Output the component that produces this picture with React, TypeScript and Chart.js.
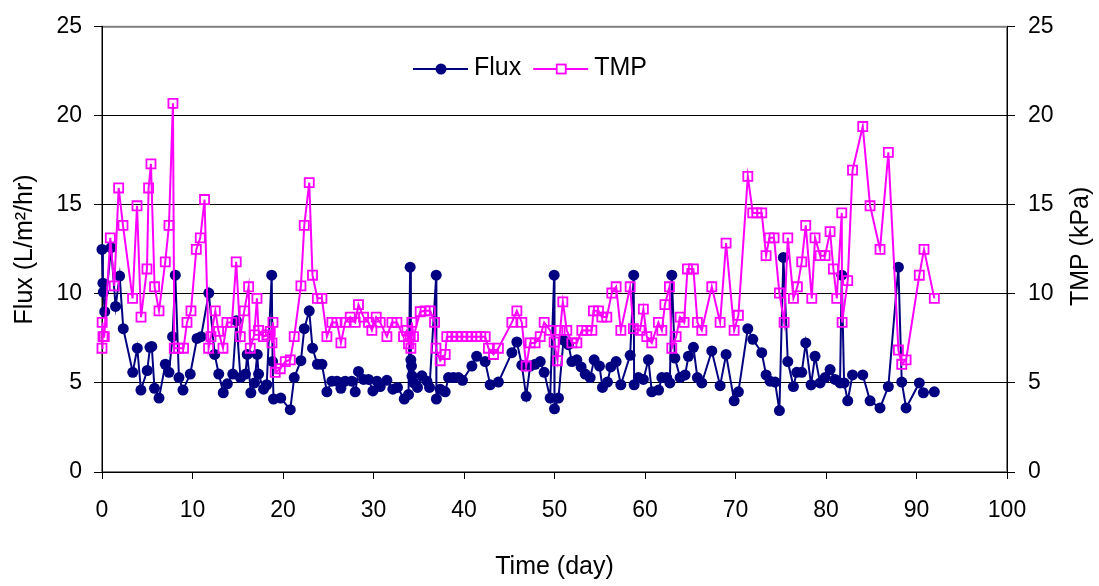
import React, { useEffect, useRef } from 'react';
import { Chart, registerables } from 'chart.js';

Chart.register(...registerables);

const fluxDays = [
  0.0, 0.1, 0.15, 0.3, 1.0, 1.5, 1.95, 2.35, 3.4, 3.9, 4.3, 5.0, 5.3, 5.5, 5.8, 6.3, 7.0, 7.4, 7.8, 8.1,
  8.5, 8.95, 9.75, 10.5, 10.95, 11.8, 12.45, 12.9, 13.4, 13.85, 14.45, 14.85, 15.3, 15.85, 16.05, 16.45, 16.85, 17.15, 17.3, 17.85,
  18.2, 18.75, 18.85, 18.95, 19.75, 20.8, 21.24, 21.98, 22.35, 22.9, 23.26, 23.8, 24.3, 24.85, 25.4, 25.96, 26.4, 26.87, 27.6, 27.98,
  28.34, 28.9, 29.45, 29.93, 30.38, 30.74, 31.48, 32.14, 32.65, 33.4, 33.87, 34.05, 34.13, 34.2, 34.25, 34.45, 34.86, 35.35, 35.9, 36.19,
  36.93, 36.95, 37.37, 37.92, 38.29, 38.84, 39.39, 39.83, 40.87, 41.4, 42.34, 42.89, 43.8, 45.29, 45.84, 46.39, 46.87, 47.31, 47.86, 48.42,
  48.86, 49.52, 49.96, 50.0, 50.44, 50.99, 51.54, 51.92, 52.47, 52.94, 53.39, 53.94, 54.38, 54.97, 55.3, 55.85, 56.22, 56.81, 57.33, 58.36,
  58.75, 58.8, 59.27, 59.82, 60.38, 60.75, 61.5, 61.86, 62.4, 62.75, 62.96, 63.3, 63.88, 64.43, 64.8, 65.35, 65.79, 66.28, 67.38, 68.3,
  68.96, 69.85, 70.32, 71.36, 71.91, 72.9, 73.38, 73.82, 74.37, 74.85, 75.29, 75.78, 76.4, 76.77, 77.32, 77.76, 78.35, 78.79, 79.35, 79.9,
  80.45, 81.0, 81.55, 81.74, 82.0, 82.4, 82.93, 84.06, 84.87, 85.97, 86.89, 88.0, 88.37, 88.85, 90.31, 90.76, 91.97,
];
const fluxValues = [
  12.5, 10.6, 10.1, 9.0, 12.6, 9.3, 11.0, 8.05, 5.6, 6.95, 4.6, 5.7, 7.0, 7.05, 4.7, 4.15, 6.05, 5.6, 7.6, 11.05,
  5.3, 4.6, 5.5, 7.5, 7.6, 10.05, 6.6, 5.5, 4.45, 4.95, 5.5, 8.5, 5.3, 5.5, 6.6, 4.45, 5.0, 6.6, 5.5, 4.65,
  4.9, 11.05, 6.2, 4.1, 4.15, 3.5, 5.3, 6.25, 8.05, 9.05, 6.95, 6.05, 6.05, 4.5, 5.1, 5.1, 4.7, 5.1, 5.1, 4.5,
  5.65, 5.2, 5.2, 4.55, 5.1, 4.8, 5.15, 4.65, 4.75, 4.1, 4.35, 11.5, 6.3, 5.95, 5.4, 5.0, 4.75, 5.4, 5.1, 4.75,
  11.05, 4.1, 4.65, 4.5, 5.3, 5.3, 5.3, 5.15, 5.95, 6.5, 6.2, 4.9, 5.05, 6.7, 7.3, 6.0, 4.25, 5.95, 6.05, 6.2,
  5.6, 4.15, 11.05, 3.55, 4.15, 7.4, 7.15, 6.2, 6.3, 5.9, 5.5, 5.3, 6.3, 5.95, 4.75, 5.05, 5.9, 6.2, 4.9, 6.55,
  11.05, 4.9, 5.3, 5.2, 6.3, 4.5, 4.6, 5.3, 5.3, 5.0, 11.05, 6.4, 5.3, 5.45, 6.5, 7.0, 5.3, 5.0, 6.8, 4.85,
  6.6, 4.0, 4.5, 8.05, 7.45, 6.7, 5.45, 5.1, 5.05, 3.45, 12.05, 6.2, 4.8, 5.6, 5.6, 7.25, 4.9, 6.5, 5.0, 5.3,
  5.75, 5.2, 5.0, 11.05, 5.0, 4.0, 5.45, 5.45, 4.0, 3.6, 4.8, 11.5, 5.05, 3.6, 5.0, 4.45, 4.5,
];

const tmpDays = [
  0.0, 0.02, 0.11, 0.25, 0.92, 1.36, 1.84, 2.32, 3.38, 3.87, 4.31, 4.97, 5.15, 5.41, 5.81, 6.3, 6.99, 7.4, 7.84, 7.99,
  8.46, 9.01, 9.39, 9.83, 10.42, 10.86, 11.33, 11.78, 12.04, 12.52, 12.88, 13.37, 13.8, 14.36, 14.83, 15.28, 15.72, 16.2, 16.38, 16.82,
  17.12, 17.3, 17.85, 18.22, 18.59, 18.78, 18.89, 19.14, 19.7, 20.25, 20.8, 21.24, 21.98, 22.35, 22.9, 23.26, 23.8, 24.3, 24.85, 25.4,
  25.96, 26.4, 26.87, 27.43, 27.98, 28.34, 28.9, 29.45, 29.82, 30.3, 30.74, 31.48, 32.03, 32.59, 33.32, 33.69, 33.87, 34.06, 34.13, 34.24,
  34.42, 35.16, 35.71, 36.26, 36.75, 36.9, 37.37, 37.92, 38.1, 38.66, 39.21, 39.77, 40.32, 40.87, 41.42, 41.85, 42.34, 42.7, 43.26, 43.8,
  45.29, 45.84, 46.39, 46.87, 47.31, 47.86, 48.42, 48.86, 49.52, 49.96, 50.33, 50.62, 50.92, 51.36, 51.92, 52.47, 53.02, 53.57, 54.13, 54.3,
  54.86, 55.23, 55.78, 56.33, 56.81, 57.33, 58.36, 58.72, 59.45, 59.82, 60.2, 60.75, 61.48, 61.86, 62.2, 62.7, 62.96, 63.44, 63.88, 64.32,
  64.69, 65.35, 65.79, 66.28, 67.38, 68.3, 68.96, 69.85, 70.32, 71.36, 71.91, 72.35, 72.9, 73.38, 73.74, 74.26, 74.85, 75.37, 75.78, 76.4,
  76.84, 77.32, 77.76, 78.43, 78.79, 79.35, 79.9, 80.45, 80.82, 81.19, 81.74, 81.78, 82.4, 82.93, 84.06, 84.87, 85.97, 86.89, 88.0, 88.37,
  88.85, 90.31, 90.83, 91.97,
];
const tmpValues = [
  6.95, 8.4, 7.6, 7.6, 13.15, 10.45, 15.95, 13.85, 9.75, 14.95, 8.7, 11.4, 15.95, 17.3, 10.4, 9.05, 11.8, 13.85, 20.7, 6.95,
  6.95, 6.95, 8.4, 9.05, 12.5, 13.15, 15.3, 6.95, 7.6, 9.05, 7.9, 6.95, 8.4, 8.4, 11.8, 7.6, 9.05, 10.4, 6.95, 7.7,
  9.75, 7.95, 7.6, 7.7, 7.9, 7.25, 8.4, 5.6, 5.8, 6.2, 6.3, 7.6, 10.45, 13.85, 16.25, 11.05, 9.75, 9.75, 7.6, 8.4,
  8.4, 7.25, 8.4, 8.7, 8.4, 9.4, 8.7, 8.4, 7.95, 8.7, 8.4, 7.6, 8.4, 8.4, 7.6, 7.95, 7.2, 7.6, 6.95, 8.4,
  7.6, 9.0, 9.05, 9.05, 8.4, 6.95, 6.25, 6.6, 7.6, 7.6, 7.6, 7.6, 7.6, 7.6, 7.6, 7.6, 7.6, 6.95, 6.6, 6.95,
  8.4, 9.05, 8.4, 5.95, 7.25, 7.25, 7.6, 8.4, 7.95, 7.3, 6.25, 7.95, 9.55, 7.95, 7.25, 7.25, 7.95, 7.95, 7.95, 9.05,
  9.05, 8.7, 8.7, 10.05, 10.4, 7.95, 10.4, 8.05, 7.95, 9.15, 7.6, 7.25, 8.4, 7.95, 9.4, 10.4, 6.95, 7.6, 8.7, 8.4,
  11.4, 11.4, 8.4, 7.95, 10.4, 8.4, 12.85, 7.95, 8.8, 16.6, 14.55, 14.55, 14.55, 12.15, 13.15, 13.15, 10.05, 8.4, 13.15, 9.75,
  10.4, 11.8, 13.85, 9.75, 13.15, 12.15, 12.15, 13.5, 11.4, 9.75, 14.55, 8.4, 10.75, 16.95, 19.4, 14.95, 12.5, 17.95, 6.85, 6.05,
  6.3, 11.05, 12.5, 9.75,
];

const xTickStep = 10;
const xMin = 0;
const xMax = 100;
const yTickStep = 5;
const yMin = 0;
const yMax = 25;

const seriesNames = ['Flux', 'TMP'];
const xTitle = 'Time (day)';
const yLeftTitle = 'Flux (L/m\u00B2/hr)';
const yRightTitle = 'TMP (kPa)';

const FONT = "'Liberation Sans', Arial, sans-serif";
const NAVY = '#000080';
const MAGENTA = '#FF00FF';

const toPoints = (xs: number[], ys: number[]) => xs.map((x, i) => ({ x, y: ys[i] }));

const frameAndTitlePlugin = {
  id: 'frameAndTitle',
  beforeDraw(chart: any) {
    const { ctx, chartArea } = chart;
    ctx.save();
    ctx.strokeStyle = '#808080';
    ctx.lineWidth = 2;
    ctx.strokeRect(chartArea.left, chartArea.top, chartArea.right - chartArea.left, chartArea.bottom - chartArea.top);
    ctx.restore();
  },
  afterDraw(chart: any) {
    const { ctx, chartArea } = chart;
    ctx.save();
    // right axis title, reading bottom to top
    ctx.font = `25px ${FONT}`;
    ctx.fillStyle = '#000';
    ctx.textAlign = 'center';
    ctx.textBaseline = 'alphabetic';
    ctx.translate(1088, (chartArea.top + chartArea.bottom) / 2 - 3);
    ctx.rotate(-Math.PI / 2);
    ctx.fillText(yRightTitle, 0, 0);
    ctx.restore();

    // legend: line with marker, then label
    ctx.save();
    ctx.font = `25px ${FONT}`;
    ctx.textBaseline = 'alphabetic';
    ctx.textAlign = 'left';
    let x = 413;
    const yLine = 69;
    chart.data.datasets.slice().sort((a: any, b: any) => a.legendIndex - b.legendIndex).forEach((ds: any) => {
      ctx.strokeStyle = ds.borderColor;
      ctx.lineWidth = 2;
      ctx.beginPath();
      ctx.moveTo(x, yLine);
      ctx.lineTo(x + 55, yLine);
      ctx.stroke();
      const cx = x + 28;
      if (ds.pointStyle === 'circle') {
        ctx.fillStyle = ds.borderColor;
        ctx.beginPath();
        ctx.arc(cx, yLine, 5.5, 0, Math.PI * 2);
        ctx.fill();
      } else {
        ctx.fillStyle = '#fff';
        ctx.fillRect(cx - 4.5, yLine - 4.5, 9, 9);
        ctx.lineWidth = 1.8;
        ctx.strokeRect(cx - 4.5, yLine - 4.5, 9, 9);
      }
      ctx.fillStyle = '#000';
      ctx.fillText(ds.label, x + 61, 75);
      const w = ctx.measureText(ds.label).width;
      x = x + 61 + w + 12;
    });
    ctx.restore();
  },
};

export default function App() {
  const canvasRef = useRef<HTMLCanvasElement | null>(null);

  useEffect(() => {
    const canvas = canvasRef.current;
    if (!canvas) return;
    const tickFont = { family: FONT, size: 23 };
    const titleFont = { family: FONT, size: 25 };
    const chart = new Chart(canvas, {
      type: 'line',
      data: {
        datasets: [
          {
            label: seriesNames[1],
            legendIndex: 1,
            data: toPoints(tmpDays, tmpValues),
            yAxisID: 'y2',
            borderColor: MAGENTA,
            backgroundColor: MAGENTA,
            borderWidth: 2,
            pointStyle: 'rect',
            pointRadius: 6.4,
            pointBorderWidth: 1.8,
            pointBackgroundColor: 'rgba(255,255,255,0)',
            pointBorderColor: MAGENTA,
            tension: 0,
            clip: false,
            order: 0,
          } as any,
          {
            label: seriesNames[0],
            legendIndex: 0,
            data: toPoints(fluxDays, fluxValues),
            yAxisID: 'y',
            borderColor: NAVY,
            backgroundColor: NAVY,
            borderWidth: 2,
            pointStyle: 'circle',
            pointRadius: 5.5,
            pointBorderWidth: 0,
            pointBackgroundColor: NAVY,
            tension: 0,
            clip: false,
            order: 1,
          } as any,
        ],
      },
      options: {
        animation: false,
        responsive: false,
        maintainAspectRatio: false,
        devicePixelRatio: 1,
        layout: { padding: { top: 22, left: 0, right: 0, bottom: 0 } },
        plugins: {
          legend: { display: false },
          tooltip: { enabled: false },
        },
        scales: {
          x: {
            type: 'linear',
            position: 'bottom',
            min: xMin,
            max: xMax,
            ticks: { stepSize: xTickStep, color: '#000', font: tickFont, padding: 18, maxRotation: 0 },
            grid: { drawOnChartArea: false, drawTicks: true, tickLength: 7, tickColor: '#000' },
            border: { display: true, color: '#000', width: 1 },
            title: { display: true, text: xTitle, color: '#000', font: titleFont, padding: { top: 4, bottom: 4 } },
            afterFit: (s: any) => { s.height = 114; },
          },
          y: {
            type: 'linear',
            position: 'left',
            min: yMin,
            max: yMax,
            ticks: { stepSize: yTickStep, color: '#000', font: tickFont, padding: 12 },
            grid: {
              drawOnChartArea: true,
              drawTicks: true,
              tickLength: 8,
              tickColor: '#000',
              lineWidth: 1,
              color: (c: any) => (c.tick && (c.tick.value === yMin || c.tick.value === yMax) ? 'rgba(0,0,0,0)' : '#000'),
            },
            border: { display: true, color: '#000', width: 1 },
            title: { display: true, text: yLeftTitle, color: '#000', font: titleFont, padding: { top: 10, bottom: 4 } },
            afterFit: (s: any) => { s.width = 102; },
          },
          y2: {
            type: 'linear',
            position: 'right',
            min: yMin,
            max: yMax,
            ticks: { stepSize: yTickStep, color: '#000', font: tickFont, padding: 13 },
            grid: { drawOnChartArea: false, drawTicks: true, tickLength: 8, tickColor: '#000' },
            border: { display: true, color: '#000', width: 1 },
            afterFit: (s: any) => { s.width = 92; },
          },
        },
      } as any,
      plugins: [frameAndTitlePlugin],
    });
    return () => chart.destroy();
  }, []);

  return (
    <div style={{ position: 'absolute', left: 0, top: 0, width: 1099, height: 586, background: '#fff' }}>
      <canvas ref={canvasRef} width={1099} height={586} />
    </div>
  );
}
